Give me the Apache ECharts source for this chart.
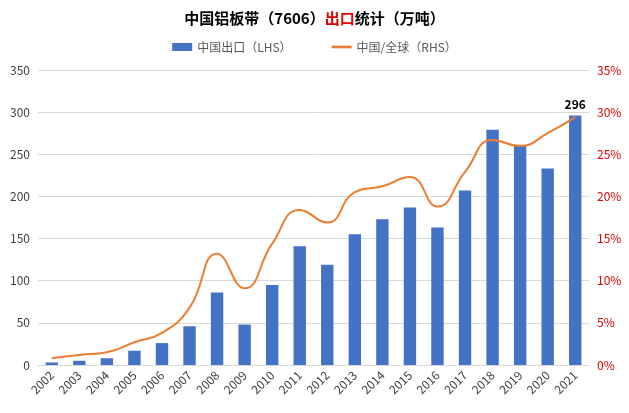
<!DOCTYPE html>
<html><head><meta charset="utf-8">
<script src="https://cdn.jsdelivr.net/npm/echarts@6/dist/echarts.min.js"></script>
<style>html,body{margin:0;padding:0;background:#fff}#c{width:629px;height:413px}</style>
</head><body><div id="c"></div>
<script>
var categories=['2002','2003','2004','2005','2006','2007','2008','2009','2010','2011','2012','2013','2014','2015','2016','2017','2018','2019','2020','2021'];
var exportsVals=[3,5,8,17,26,46,86,48,95,141,119,155,173,187,163,207,279,261,233,296];
var shareVals=[0.8,1.2,1.5,2.7,3.8,6.8,13.2,9.1,14.4,18.4,16.9,20.5,21.2,22.3,18.8,22.9,26.7,26.0,27.5,29.4];
var font='"Noto Sans CJK SC","Noto Sans",sans-serif';
var chart=echarts.init(document.getElementById('c'));
chart.setOption({
  textStyle:{fontFamily:font},
  title:{text:'{a|中国铝板带（7606）}{b|出口}{a|统计（万吨）}',left:'center',top:6,
    textStyle:{rich:{a:{fontSize:15,fontWeight:'bold',color:'#000',fontFamily:font},b:{fontSize:15,fontWeight:'bold',color:'#e00000',fontFamily:font}}}},
  legend:{top:36,left:'center',itemGap:40,textStyle:{fontSize:12,color:'#595959'},
    data:[{name:'中国出口（LHS）',icon:'rect'},{name:'中国/全球（RHS）',icon:'path://M0,0H30V4H0Z'}],itemWidth:20,itemHeight:8},
  grid:{left:38,right:40,top:70,bottom:48},
  xAxis:{type:'category',data:categories,axisTick:{show:false},
    axisLine:{lineStyle:{color:'#d9d9d9'}},axisLabel:{rotate:45,color:'#404040',fontSize:12,interval:0}},
  yAxis:[{type:'value',min:0,max:350,interval:50,axisLabel:{color:'#404040',fontSize:12},
    splitLine:{lineStyle:{color:'#d9d9d9'}}},
    {type:'value',min:0,max:35,interval:5,axisLabel:{formatter:'{value}%',color:'#e00000',fontSize:12},splitLine:{show:false}}],
  series:[{name:'中国出口（LHS）',type:'bar',data:exportsVals,barWidth:'45%',itemStyle:{color:'#4472c4'},
    label:{show:true,position:'top',fontWeight:'bold',color:'#000',fontSize:12,
      formatter:function(p){return p.dataIndex===exportsVals.length-1?p.value:'';}}},
   {name:'中国/全球（RHS）',type:'line',yAxisIndex:1,data:shareVals,smooth:true,symbol:'none',
    lineStyle:{color:'#ed7d31',width:2},itemStyle:{color:'#ed7d31'},
    label:{show:true,position:'bottom',color:'#e00000',fontSize:12,offset:[-8,-2],
      formatter:function(p){return p.dataIndex===shareVals.length-1?p.value.toFixed(1)+'%':'';}}}]
});
</script></body></html>
